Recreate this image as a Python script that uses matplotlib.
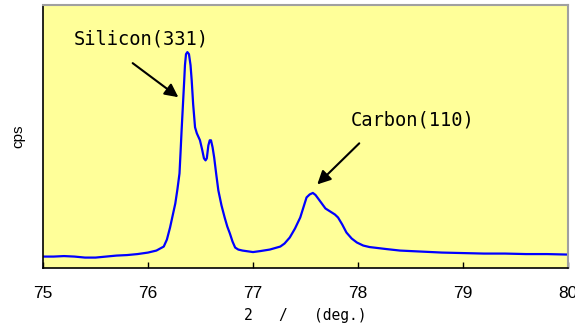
import matplotlib
matplotlib.use("Agg")
import matplotlib.pyplot as plt

# XRD scan
two_theta = [75.00, 75.10, 75.20, 75.30, 75.40, 75.50, 75.60, 75.70, 75.80, 75.90,
             76.00, 76.08, 76.15, 76.18, 76.21, 76.235, 76.26, 76.28, 76.30, 76.31,
             76.32, 76.333, 76.345, 76.352, 76.362, 76.375, 76.39, 76.405, 76.416, 76.43,
             76.448, 76.465, 76.495, 76.515, 76.533, 76.548, 76.56, 76.568, 76.575, 76.588,
             76.60, 76.615, 76.63, 76.65, 76.67, 76.70, 76.73, 76.755, 76.78, 76.805,
             76.83, 76.86, 76.90, 77.00, 77.07, 77.16, 77.26, 77.30, 77.35, 77.40,
             77.45, 77.48, 77.51, 77.54, 77.57, 77.595, 77.62, 77.655, 77.69, 77.72,
             77.75, 77.78, 77.81, 77.85, 77.89, 77.94, 77.99, 78.05, 78.11, 78.19,
             78.27, 78.40, 78.60, 78.80, 79.00, 79.20, 79.40, 79.60, 79.80, 80.00]
cps = [11, 11, 11.5, 11, 10, 10, 11, 12, 12.5, 13.5,
       15, 17, 21, 28, 40, 52, 64, 78, 94, 115,
       137, 163, 187, 202, 213, 215, 213, 202, 187, 163,
       140, 134, 127, 118, 109, 107, 109, 116, 122, 127,
       127, 120, 110, 93, 77, 62, 50, 41, 34, 26,
       20, 18, 17, 15.5, 16.5, 18, 21, 24, 30, 39,
       50, 60, 70, 73, 74.5, 72.5, 69, 64, 59, 57,
       55, 53, 50, 43, 35, 29, 25, 22, 20.5, 19.5,
       18.5, 17, 16, 15, 14.5, 14, 14, 13.5, 13.5, 13]

xticks = [75, 76, 77, 78, 79, 80]
peak_labels = ["Silicon(331)", "Carbon(110)"]
label_pos = [(75.933, 228), (78.519, 147)]
arrow_tail = [(75.854, 204), (78.012, 124)]
arrow_tip = [(76.289, 170), (77.612, 83)]

mono = "DejaVu Sans Mono"
sans = "Liberation Sans"

fig = plt.figure(figsize=(5.75, 3.25), dpi=100)
ax = fig.add_axes([0.0748, 0.1766, 0.913, 0.808])
ax.set_facecolor("#ffff99")

ax.plot(two_theta, cps, color="#0000ff", lw=1.6)

ax.set_xlim(75, 80)
ax.set_ylim(0, 262)
ax.set_xticks(xticks)
ax.set_xticklabels([str(t) for t in xticks], fontfamily=sans, fontsize=12.5)
ax.set_yticks([])
ax.tick_params(axis="x", direction="in", length=4, width=1, pad=13)

for side in ["left", "bottom"]:
    ax.spines[side].set_color("black")
    ax.spines[side].set_linewidth(1.2)
for side in ["top", "right"]:
    ax.spines[side].set_color("#a0a0a0")
    ax.spines[side].set_linewidth(1.5)

for txt, pos, tail, tip in zip(peak_labels, label_pos, arrow_tail, arrow_tip):
    ax.text(pos[0], pos[1], txt, fontfamily=mono, fontsize=13.5,
            ha="center", va="center")
    ax.annotate("", xy=tip, xytext=tail,
                arrowprops=dict(arrowstyle="-|>", color="black", lw=1.5,
                                mutation_scale=20, shrinkA=0, shrinkB=0))

ax.set_xlabel("2   /   (deg.)", fontfamily=mono, fontsize=10.5, labelpad=5)
ax.set_ylabel("cps", fontfamily=sans, fontsize=11, labelpad=13)

fig.savefig("out.png", dpi=100)
